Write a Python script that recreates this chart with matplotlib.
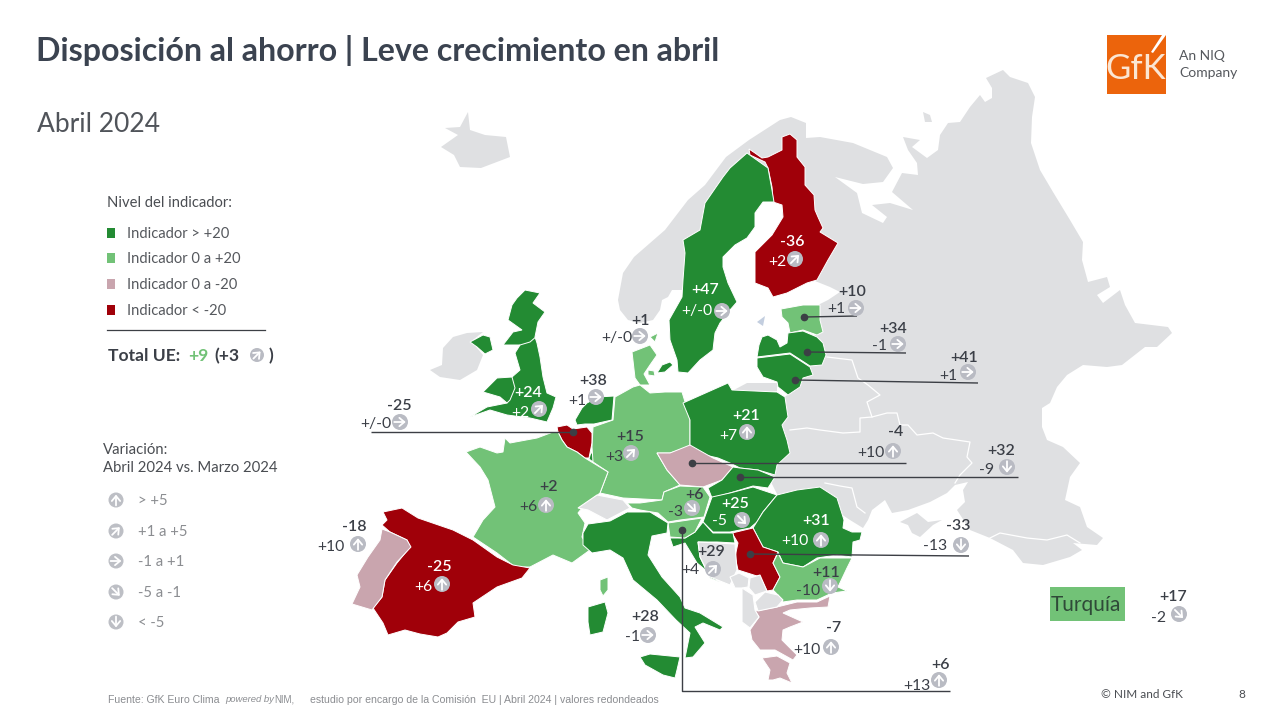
"""Disposicion al ahorro, abril 2024: mapa de Europa con indicador y variacion."""

import matplotlib
matplotlib.use("Agg")
import matplotlib.pyplot as plt
from matplotlib.patches import Circle, Polygon, Rectangle

plt.rcParams["font.family"] = ["Lato", "DejaVu Sans"]

# ── Data ───────────────────────────────────────────────────────────────
COUNTRIES = ["Finlandia", "Suecia", "Dinamarca", "Estonia", "Letonia", "Lituania",
             "Reino Unido", "Paises Bajos", "Belgica", "Alemania", "Francia", "Polonia",
             "Chequia", "Eslovaquia", "Austria", "Hungria", "Rumania", "Serbia",
             "Croacia", "Eslovenia", "Bulgaria", "Grecia", "Italia", "Espana",
             "Portugal", "Turquia"]
INDICATOR = [-36, 47, 1, 10, 34, 41, 24, 38, -25, 15, 2, 21, -4, 32, 6, 25, 31, -33,
             29, 6, 11, -7, 28, -25, -18, 17]
CHANGE = [2, 0, 0, 1, -1, 1, 2, 1, 0, 3, 6, 7, 10, -9, -3, -5, 10, -13, 4, 13, -10,
          10, -1, 6, 10, -2]

# Outlines, in pixels
MAINLAND = [(618, 300), (623, 273), (634, 257), (665, 230), (688, 200), (705, 185), (726, 157),
            (749, 140), (780, 120), (791, 117), (806, 123), (806, 138), (820, 137), (853, 143),
            (887, 157), (893, 168), (883, 182), (863, 184), (835, 177), (857, 193), (862, 213),
            (883, 223), (887, 217), (872, 205), (890, 203), (913, 210), (892, 192), (902, 173),
            (918, 175), (917, 163), (908, 150), (903, 137), (920, 140), (912, 147), (927, 158),
            (938, 150), (940, 135), (948, 123), (960, 122), (970, 107), (980, 95), (985, 102),
            (992, 98), (992, 88), (986, 78), (1003, 70), (1010, 77), (1028, 83), (1035, 97),
            (1032, 117), (1031, 143), (1040, 170), (1053, 192), (1070, 220), (1083, 242),
            (1082, 260), (1088, 282), (1107, 277), (1110, 287), (1097, 295), (1103, 303),
            (1120, 290), (1125, 305), (1135, 323), (1168, 327), (1172, 333), (1157, 347),
            (1145, 347), (1122, 365), (1107, 367), (1083, 365), (1067, 375), (1057, 387),
            (1050, 403), (1042, 408), (1042, 427), (1047, 440), (1063, 447), (1080, 463),
            (1070, 477), (1065, 500), (1080, 507), (1087, 527), (1103, 538), (1097, 545),
            (1073, 543), (1082, 550), (1070, 557), (1043, 565), (1023, 563), (1013, 550),
            (990, 538), (970, 530), (957, 510), (965, 502), (963, 490), (968, 482), (955, 485),
            (947, 493), (930, 502), (908, 510), (892, 513), (885, 500), (872, 510), (868, 520),
            (863, 528), (850, 520), (820, 500), (780, 500), (770, 480), (780, 440), (780, 400),
            (795, 390), (805, 370), (815, 345), (815, 320), (815, 308), (820, 304), (828, 300),
            (840, 292), (830, 287), (820, 283), (800, 275), (790, 230), (778, 195), (765, 175),
            (740, 175), (710, 225), (690, 260), (690, 290), (672, 290), (668, 297), (662, 300),
            (660, 310), (653, 320), (640, 323), (628, 320), (620, 310)]
ICELAND = [(441, 147), (458, 135), (445, 128), (460, 127), (468, 112), (470, 130), (485, 135),
           (506, 137), (510, 157), (481, 168), (460, 167), (454, 155)]
IRELAND = [(430, 370), (442, 365), (443, 348), (453, 337), (467, 333), (483, 332), (473, 340),
           (477, 348), (483, 355), (477, 370), (460, 380), (440, 377)]
CRIMEA = [(900, 522), (917, 513), (928, 522), (942, 520), (933, 525), (920, 537), (912, 533),
          (908, 525)]
KALININGRAD = [(747, 383), (777, 383), (777, 391), (732, 391)]
KOLGUEV = [(923, 112), (930, 115), (932, 122), (925, 122)]
SWITZERLAND = [(578, 508), (597, 495), (623, 500), (630, 508), (607, 520), (588, 510)]
BOSNIA = [(698, 542), (735, 544), (737, 570), (730, 585), (710, 577), (700, 557)]
MONTENEGRO = [(730, 577), (739, 573), (749, 578), (748, 587), (742, 588), (735, 588)]
KOSOVO = [(750, 578), (760, 575), (767, 591), (755, 595), (749, 588)]
MACEDONIA = [(755, 602), (765, 592), (778, 595), (783, 600), (777, 607), (758, 611)]
ALBANIA = [(742, 588), (753, 595), (755, 610), (759, 617), (750, 628), (742, 622)]
GREY_SHAPES = [MAINLAND, ICELAND, IRELAND, CRIMEA, KALININGRAD, KOLGUEV, SWITZERLAND, BOSNIA,
               MONTENEGRO, KOSOVO, MACEDONIA, ALBANIA]

FINLAND = [(749, 149), (755, 153), (762, 158), (768, 157), (782, 150), (782, 137), (790, 134),
           (797, 140), (797, 157), (805, 167), (805, 185), (814, 195), (815, 210), (818, 217),
           (823, 228), (820, 232), (838, 243), (828, 260), (817, 280), (807, 283), (787, 293),
           (773, 297), (768, 288), (755, 283), (755, 252), (772, 235), (783, 217), (782, 205),
           (773, 202), (772, 187), (768, 168), (765, 162), (750, 155)]
SWEDEN = [(747, 153), (768, 168), (772, 190), (774, 202), (763, 202), (755, 213), (755, 227),
          (747, 238), (735, 245), (723, 257), (723, 267), (728, 283), (737, 302), (730, 310),
          (720, 323), (715, 333), (713, 350), (700, 360), (688, 373), (678, 372), (677, 360),
          (670, 340), (669, 320), (682, 297), (683, 280), (685, 253), (683, 240), (700, 230),
          (705, 203), (723, 177), (730, 168)]
JUTLAND = [(632, 352), (650, 345), (657, 355), (650, 365), (644, 374), (650, 385), (640, 385),
           (635, 378)]
DK_ISLAND_N = [(650, 337), (658, 333), (655, 342)]
DK_ISLAND_S = [(648, 370), (654, 371), (655, 376), (648, 375)]
ZEALAND = [(657, 373), (665, 372), (673, 365), (670, 362), (662, 365)]
ESTONIA = [(781, 309), (803, 305), (820, 305), (820, 320), (823, 332), (817, 335), (803, 330),
           (790, 333), (788, 323), (782, 317)]
LATVIA = [(762, 337), (768, 335), (777, 340), (780, 347), (787, 343), (788, 333), (803, 331),
          (817, 337), (823, 343), (826, 355), (822, 365), (810, 366), (790, 353), (757, 357),
          (759, 345)]
LITHUANIA = [(757, 358), (790, 354), (810, 367), (813, 375), (803, 378), (800, 387), (788, 395),
             (778, 387), (777, 382), (763, 377), (757, 367)]
BRITAIN = [(525, 290), (540, 293), (533, 303), (545, 312), (538, 322), (535, 337), (537, 343),
           (540, 357), (543, 377), (547, 393), (556, 397), (553, 408), (547, 422), (530, 418),
           (507, 415), (490, 410), (470, 417), (487, 407), (507, 403), (500, 397), (483, 392),
           (497, 378), (512, 377), (520, 370), (515, 353), (520, 345), (503, 345), (513, 332),
           (522, 330), (508, 320), (512, 305), (517, 298)]
N_IRELAND = [(470, 342), (483, 335), (490, 337), (493, 350), (485, 354), (477, 347)]
NETHERLANDS = [(575, 420), (582, 408), (587, 403), (598, 397), (614, 396), (612, 420), (594, 424),
               (585, 424), (577, 425)]
BELGIUM = [(557, 427), (567, 425), (573, 429), (587, 427), (592, 433), (592, 443), (589, 458),
           (585, 458), (577, 452), (567, 447), (562, 440), (558, 432)]
LUXEMBOURG = [(591, 452), (594, 456), (593, 462), (589, 459)]
GERMANY = [(633, 387), (640, 385), (650, 393), (665, 392), (682, 392), (686, 405), (690, 420),
           (690, 447), (670, 453), (657, 453), (667, 470), (680, 485), (664, 492), (662, 500),
           (623, 498), (600, 493), (608, 472), (593, 462), (592, 447), (593, 427), (613, 420),
           (615, 397)]
FRANCE = [(466, 452), (480, 447), (497, 453), (503, 452), (505, 438), (510, 443), (537, 438),
          (553, 432), (558, 432), (562, 440), (567, 447), (577, 452), (585, 458), (608, 472),
          (600, 493), (582, 508), (578, 513), (585, 523), (582, 537), (590, 550), (572, 563),
          (553, 555), (530, 567), (515, 567), (497, 553), (473, 537), (483, 520), (495, 507),
          (488, 480), (480, 467)]
CORSICA = [(600, 580), (608, 577), (608, 590), (603, 596), (600, 590)]
POLAND = [(683, 403), (728, 383), (732, 390), (777, 392), (785, 397), (788, 417), (782, 425),
          (787, 440), (790, 453), (777, 465), (775, 475), (758, 470), (740, 468), (730, 463),
          (718, 458), (705, 455), (690, 447), (690, 420)]
CZECHIA = [(657, 453), (670, 453), (690, 445), (713, 458), (733, 467), (722, 480), (703, 487),
           (680, 485), (667, 470)]
SLOVAKIA = [(733, 467), (740, 468), (758, 470), (775, 477), (768, 488), (753, 486), (730, 493),
            (712, 498), (708, 488), (722, 480)]
AUSTRIA = [(627, 503), (640, 503), (662, 500), (664, 492), (680, 486), (703, 487), (710, 497),
           (704, 517), (680, 520), (668, 522), (658, 513), (640, 510), (632, 508)]
HUNGARY = [(712, 497), (730, 493), (753, 487), (777, 495), (763, 512), (757, 522), (750, 528),
           (730, 532), (713, 532), (703, 522)]
ROMANIA = [(777, 495), (797, 490), (820, 487), (837, 498), (844, 520), (843, 528), (852, 532),
           (862, 532), (860, 540), (853, 542), (852, 557), (837, 555), (817, 558), (803, 567),
           (783, 563), (778, 552), (763, 547), (753, 528), (763, 512)]
SERBIA = [(732, 533), (753, 528), (763, 547), (778, 552), (773, 563), (780, 577), (773, 590),
          (767, 591), (760, 577), (738, 570), (735, 557), (738, 543)]
CROATIA = [(703, 522), (713, 533), (733, 533), (735, 543), (717, 542), (698, 542), (700, 557),
           (710, 578), (720, 582), (697, 563), (685, 543), (673, 547), (670, 538), (685, 538),
           (695, 532)]
SLOVENIA = [(668, 523), (702, 518), (695, 532), (685, 538), (670, 537)]
BULGARIA = [(778, 553), (783, 563), (803, 567), (820, 558), (852, 558), (847, 568), (838, 587),
            (847, 591), (832, 593), (817, 600), (797, 600), (783, 602), (778, 595), (773, 590),
            (780, 577), (773, 563)]
GREECE = [(750, 630), (759, 617), (755, 611), (777, 607), (797, 602), (817, 602), (830, 596),
          (828, 607), (810, 608), (790, 610), (783, 613), (803, 622), (790, 627), (783, 630),
          (782, 640), (797, 655), (793, 660), (775, 650), (760, 650), (752, 640)]
PELOPONNESE = [(762, 658), (777, 656), (790, 663), (787, 673), (792, 683), (780, 678), (773, 680),
               (768, 680), (770, 670)]
ITALY = [(583, 533), (588, 524), (610, 521), (627, 512), (650, 512), (668, 523), (667, 533),
         (652, 536), (648, 555), (662, 577), (680, 597), (685, 608), (700, 613), (723, 627),
         (720, 630), (703, 623), (695, 627), (705, 643), (693, 657), (685, 658), (690, 633),
         (676, 620), (657, 600), (633, 580), (623, 558), (610, 550), (592, 553), (583, 545)]
SICILY = [(640, 657), (650, 654), (680, 657), (677, 670), (675, 678), (663, 675), (645, 665)]
SARDINIA = [(588, 607), (605, 602), (608, 613), (603, 632), (590, 635), (588, 622)]
SPAIN = [(383, 512), (402, 508), (418, 518), (453, 530), (473, 540), (497, 557), (513, 565),
         (530, 568), (522, 578), (497, 587), (473, 603), (475, 617), (458, 622), (447, 633),
         (438, 637), (420, 634), (405, 630), (388, 635), (383, 623), (373, 608), (382, 597),
         (385, 580), (397, 563), (410, 547), (407, 540), (390, 532), (382, 525), (387, 520)]
PORTUGAL = [(382, 529), (390, 532), (407, 540), (411, 547), (397, 562), (385, 580), (382, 597),
            (372, 610), (352, 604), (360, 587), (357, 575), (368, 557), (380, 540)]

SHAPES = {"Finlandia": [FINLAND], "Suecia": [SWEDEN, ZEALAND],
          "Dinamarca": [JUTLAND, DK_ISLAND_N, DK_ISLAND_S], "Estonia": [ESTONIA],
          "Letonia": [LATVIA], "Lituania": [LITHUANIA], "Reino Unido": [BRITAIN, N_IRELAND],
          "Paises Bajos": [NETHERLANDS, LUXEMBOURG], "Belgica": [BELGIUM], "Alemania": [GERMANY],
          "Francia": [FRANCE, CORSICA], "Polonia": [POLAND], "Chequia": [CZECHIA],
          "Eslovaquia": [SLOVAKIA], "Austria": [AUSTRIA], "Hungria": [HUNGARY],
          "Rumania": [ROMANIA], "Serbia": [SERBIA], "Croacia": [CROATIA],
          "Eslovenia": [SLOVENIA], "Bulgaria": [BULGARIA], "Grecia": [GREECE, PELOPONNESE],
          "Italia": [ITALY, SICILY, SARDINIA], "Espana": [SPAIN], "Portugal": [PORTUGAL]}

# White borders inside the grey land
BORDER_A = [(827, 357), (852, 360), (858, 378), (868, 385), (880, 395), (867, 402), (872, 417),
            (887, 413), (897, 413), (900, 425), (908, 425), (917, 435), (933, 433), (943, 438),
            (970, 442), (967, 457), (972, 463), (960, 475), (955, 483)]
BORDER_B = [(790, 430), (807, 428), (820, 430), (843, 433), (860, 432), (860, 418), (872, 417)]
BORDER_C = [(825, 483), (840, 486), (852, 488), (857, 507), (865, 513)]
BORDER_D = [(990, 538), (1000, 533), (1027, 538), (1047, 540), (1067, 535), (1080, 543)]
BORDER_E = [(520, 345), (530, 342), (537, 336)]
BORDER_F = [(512, 377), (515, 388), (510, 400), (507, 403)]

# Label layout per country: value x, y, change right edge, y, icon x, y, text colour
DARK = "#3b3f47"
LABELS = [(792, 241, 786, 261, 795, 259, "white"), (705, 289, 712, 310, 722, 311, "white"),
          (640, 320, 632, 337, 640, 336, DARK), (852, 291, 845, 308, 856, 308, DARK),
          (893, 328, 887, 345, 898, 344, DARK), (964, 357, 957, 375, 968, 372, DARK),
          (528, 392, 529, 412, 539, 409, "white"), (593, 380, 586, 400, 596, 397, DARK),
          (399, 405, 391, 423, 400, 422, DARK), (630, 436, 623, 456, 631, 453, DARK),
          (548, 486, 537, 506, 546, 505, DARK), (746, 415, 737, 435, 747, 432, "white"),
          (896, 431, 884, 452, 893, 451, DARK), (1001, 450, 994, 469, 1007, 467, DARK),
          (694, 494, 683, 511, 692, 508, DARK), (735, 503, 727, 520, 742, 520, "white"),
          (816, 520, 808, 540, 821, 540, "white"), (958, 525, 947, 545, 961, 545, DARK),
          (711, 551, 699, 569, 713, 569, DARK), (941, 664, 930, 685, 939, 680, DARK),
          (826, 572, 820, 590, 830, 586, DARK), (834, 627, 821, 649, 831, 647, DARK),
          (645, 616, 640, 636, 648, 635, DARK), (439, 566, 432, 586, 442, 584, "white"),
          (354, 526, 345, 546, 358, 544, DARK), (1173, 596, 1166, 617, 1179, 614, DARK)]

# Leader lines with a dot at the first point
LEADERS = [[(804, 317), (857, 316)], [(807, 352), (906, 353)], [(795, 380), (978, 383)],
           [(573, 432), (371, 432)], [(692, 463), (906, 463)], [(740, 477), (1018, 477)],
           [(750, 554), (969, 556)], [(682, 530), (682, 691), (950, 691)]]

LEVEL_LABELS = ["Indicador > +20", "Indicador 0 a +20", "Indicador 0 a -20", "Indicador < -20"]
VARIATION_LABELS = ["> +5", "+1 a +5", "-1 a +1", "-5 a -1", "< -5"]
VARIATION_ANGLES = [90, 45, 0, -45, -90]

GREEN_D, GREEN_L, PINK, RED = "#238B33", "#72C277", "#C9A5AE", "#A00009"
GREY = "#DFE0E2"
ICON = "#B9BBC3"


def level_colour(value):
    if value > 20:
        return GREEN_D
    if value > 0:
        return GREEN_L
    if value > -20:
        return PINK
    return RED


def change_angle(delta):
    if delta > 5:
        return 90
    if delta > 1:
        return 45
    if delta >= -1:
        return 0
    if delta >= -5:
        return -45
    return -90


def icon(ax, x, y, angle, r=8, colour=ICON, zorder=6):
    ax.add_patch(Circle((x, y), r, fc=colour, ec="none", zorder=zorder))
    s = r * 0.72
    dx = {90: 0, 45: 0.71, 0: 1, -45: 0.71, -90: 0}[angle] * s
    dy = {90: -1, 45: -0.71, 0: 0, -45: 0.71, -90: 1}[angle] * s
    ax.annotate("", xy=(x + dx, y + dy), xytext=(x - dx, y - dy), zorder=zorder + 1,
                arrowprops=dict(arrowstyle="->,head_length=0.3,head_width=0.25", color="white",
                                lw=1.3, shrinkA=0, shrinkB=0, mutation_scale=12))


fig = plt.figure(figsize=(12.8, 7.2), dpi=100)
ax = fig.add_axes([0, 0, 1, 1])
ax.set_xlim(0, 1280)
ax.set_ylim(720, 0)
ax.axis("off")

# ── Map ────────────────────────────────────────────────────────────────
for shape in GREY_SHAPES[:6]:
    ax.add_patch(Polygon(shape, fc=GREY, ec="none", zorder=1))
for shape in GREY_SHAPES[6:]:
    ax.add_patch(Polygon(shape, fc=GREY, ec="white", lw=0.8, zorder=3.5))
for line in [BORDER_A, BORDER_B, BORDER_C, BORDER_D]:
    ax.plot(*zip(*line), color="white", lw=0.9, zorder=2)

for name, value in zip(COUNTRIES, INDICATOR):
    for shape in SHAPES.get(name, []):
        ax.add_patch(Polygon(shape, fc=level_colour(value), ec="white", lw=0.7, zorder=3))
for line in [BORDER_E, BORDER_F]:
    ax.plot(*zip(*line), color="white", lw=0.7, zorder=3)
ax.add_patch(Polygon([(757, 322), (765, 316), (763, 326)], fc="#C3CEDF", ec="none", zorder=3))

# ── Leader lines ───────────────────────────────────────────────────────
for pts in LEADERS:
    xs, ys = zip(*pts)
    ax.plot(xs, ys, color="#3c3f45", lw=1.0, zorder=4, solid_capstyle="butt")
    ax.plot(xs[0], ys[0], "o", color="#3c3f45", ms=4.5, zorder=5)

# ── Value labels ───────────────────────────────────────────────────────
for value, delta, (vx, vy, dx, dy, ix, iy, col) in zip(INDICATOR, CHANGE, LABELS):
    ax.text(vx, vy + 1, f"{value:+d}", color=col, fontsize=11.5, fontweight="semibold",
            ha="center", va="center", zorder=8)
    text = "+/-0" if delta == 0 else f"{delta:+d}"
    ax.text(dx, dy + 1, text, color=col, fontsize=11.3, ha="right", va="center", zorder=8)
    icon(ax, ix, iy, change_angle(delta))

ax.add_patch(Rectangle((1050, 587), 75, 34, fc=GREEN_L, ec="none", zorder=2))
ax.text(1086, 605, "Turquía", color="#2f4a38", fontsize=15, ha="center", va="center", zorder=3)

# ── Title ──────────────────────────────────────────────────────────────
ax.text(36, 50, "Disposición al ahorro | Leve crecimiento en abril", color="#3b4350",
        fontsize=23.1, fontweight="bold", ha="left", va="center")
ax.text(37, 125, "Abril 2024", color="#50545a", fontsize=19, fontweight="normal",
        ha="left", va="center")

# ── Level legend ───────────────────────────────────────────────────────
ax.text(107, 203, "Nivel del indicador:", color="#4a4d52", fontsize=10.6, ha="left", va="center")
for label, colour, y in zip(LEVEL_LABELS, [GREEN_D, GREEN_L, PINK, RED], [233, 258, 284, 310]):
    ax.add_patch(Rectangle((107, y - 5), 8, 10, fc=colour, ec="none"))
    ax.text(127, y + 1, label, color="#55585d", fontsize=10.6, ha="left", va="center")
ax.plot([107, 265], [330, 330], color="#3c3f45", lw=0.9)

ax.text(108, 356, "Total UE:", color="#3b3f47", fontsize=12.6, fontweight="bold", va="center")
ax.text(188, 356, "+9", color=GREEN_L, fontsize=12.6, fontweight="bold", va="center")
ax.text(214, 356, "(+3", color="#3b3f47", fontsize=12.6, fontweight="bold", va="center")
icon(ax, 257, 355, 45, r=7)
ax.text(269, 356, ")", color="#3b3f47", fontsize=12.6, fontweight="bold", va="center")

# ── Variation legend ───────────────────────────────────────────────────
ax.text(103, 450, "Variación:", color="#4a4d52", fontsize=10.7, ha="left", va="center")
ax.text(103, 468, "Abril 2024 vs. Marzo 2024", color="#4a4d52", fontsize=10.7, ha="left", va="center")
for label, angle, y in zip(VARIATION_LABELS, VARIATION_ANGLES, [500, 531, 561, 592, 622]):
    icon(ax, 116, y, angle, r=7.5, colour="#BDBFC5")
    ax.text(138, y + 1, label, color="#8b8d91", fontsize=10.7, ha="left", va="center")

# ── Footer ─────────────────────────────────────────────────────────────
foot = dict(color="#8b8d91", va="center", family=["Liberation Sans"])
ax.text(108, 700, "Fuente: GfK Euro Clima", fontsize=7.6, **foot)
ax.text(225, 700, "powered by", style="italic", fontsize=6.8, **foot)
ax.text(274, 700, "NIM,", fontsize=7, **foot)
ax.text(310, 700, "estudio por encargo de la Comisión  EU | Abril 2024 | valores redondeados",
        fontsize=7.6, **foot)
ax.text(1101, 694, "© NIM and GfK", color="#4a4d52", fontsize=8.5, va="center")
ax.text(1242, 694, "8", color="#4a4d52", fontsize=8.5, ha="center", va="center")

# ── Logo ───────────────────────────────────────────────────────────────
ax.add_patch(Rectangle((1107, 35), 59, 59, fc="#EC640C", ec="none"))
ax.add_patch(Polygon([(1166, 35), (1162, 35), (1151, 52), (1153, 53)], fc="white", ec="none"))
ax.text(1136, 69, "GfK", color="#FBE6D3", fontsize=25, fontweight="normal", ha="center", va="center")
ax.text(1179, 56, "An NIQ", color="#55585d", fontsize=10, ha="left", va="center")
ax.text(1179, 73, "Company", color="#55585d", fontsize=10, ha="left", va="center")

fig.savefig("out.png", dpi=100)
